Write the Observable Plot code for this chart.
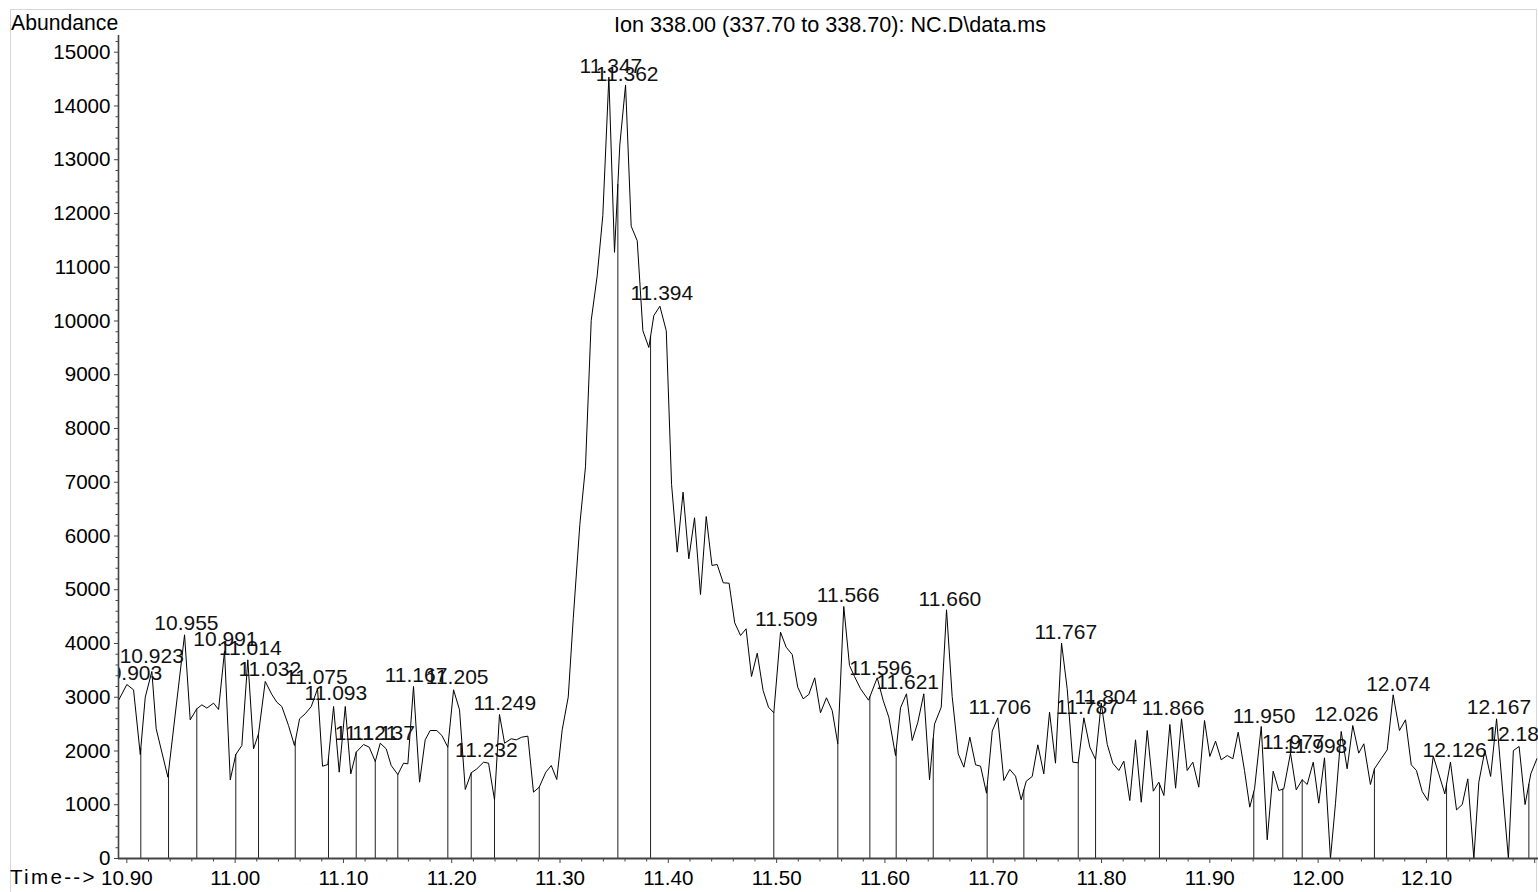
<!DOCTYPE html>
<html><head><meta charset="utf-8">
<script src="https://cdn.jsdelivr.net/npm/d3@7"></script>
<script src="https://cdn.jsdelivr.net/npm/@observablehq/plot@0.6"></script>
<style>
html,body{margin:0;padding:0;background:#fff;overflow:hidden;}
#wrap{position:relative;width:1538px;height:892px;font-family:"Liberation Sans",Arial,sans-serif;overflow:hidden;}
#frame{position:absolute;left:10px;top:9px;width:1527px;height:900px;border:1px solid #d6d6d6;box-sizing:border-box;}
#chart{position:absolute;left:0;top:0;}
.t{position:absolute;white-space:nowrap;color:#000;line-height:1;}
</style></head><body>
<div id="wrap">
  <div id="frame"></div>
  <div id="chart"></div>
  <div class="t" style="left:11px;top:12px;font-size:21.2px;">Abundance</div>
  <div class="t" style="left:830px;top:14px;font-size:21.6px;transform:translateX(-50%);">Ion 338.00 (337.70 to 338.70): NC.D\data.ms</div>
  <div class="t" style="left:10px;top:867px;font-size:20.6px;letter-spacing:2.3px;">Time--&gt;</div>
</div>
<script>
// ---- data ----
const times = [
10.8923,10.9000,10.9062,10.9124,10.9170,10.9231,10.9271,10.9379,10.9533,10.9585,
10.9646,10.9693,10.9739,10.9801,10.9847,10.9902,10.9955,11.0006,11.0062,11.0117,
11.0170,11.0216,11.0278,11.0339,11.0385,11.0431,11.0493,11.0548,11.0595,11.0647,
11.0703,11.0761,11.0807,11.0856,11.0909,11.0961,11.1017,11.1068,11.1118,11.1186,
11.1238,11.1294,11.1340,11.1395,11.1441,11.1502,11.1555,11.1595,11.1647,11.1703,
11.1755,11.1801,11.1862,11.1909,11.1964,11.2017,11.2072,11.2125,11.2180,11.2232,
11.2294,11.2340,11.2395,11.2441,11.2488,11.2549,11.2596,11.2647,11.2703,11.2755,
11.2808,11.2869,11.2919,11.2970,11.3020,11.3076,11.3122,11.3183,11.3235,11.3288,
11.3343,11.3395,11.3451,11.3503,11.3552,11.3605,11.3657,11.3713,11.3765,11.3820,
11.3866,11.3922,11.3981,11.4030,11.4082,11.4136,11.4189,11.4242,11.4297,11.4350,
11.4403,11.4451,11.4507,11.4561,11.4613,11.4667,11.4718,11.4768,11.4821,11.4875,
11.4925,11.4974,11.5036,11.5088,11.5144,11.5195,11.5245,11.5297,11.5352,11.5405,
11.5460,11.5513,11.5565,11.5620,11.5673,11.5719,11.5775,11.5849,11.5929,11.5984,
11.6036,11.6098,11.6144,11.6199,11.6252,11.6304,11.6359,11.6412,11.6458,11.6520,
11.6569,11.6621,11.6677,11.6729,11.6784,11.6837,11.6883,11.6938,11.6991,11.7042,
11.7098,11.7153,11.7206,11.7258,11.7305,11.7360,11.7412,11.7467,11.7520,11.7575,
11.7631,11.7683,11.7735,11.7785,11.7837,11.7892,11.7945,11.7997,11.8053,11.8104,
11.8160,11.8206,11.8261,11.8314,11.8367,11.8422,11.8478,11.8529,11.8576,11.8631,
11.8684,11.8739,11.8791,11.8843,11.8898,11.8951,11.9000,11.9053,11.9105,11.9161,
11.9213,11.9262,11.9320,11.9369,11.9413,11.9475,11.9530,11.9585,11.9637,11.9683,
11.9745,11.9798,11.9853,11.9899,11.9955,12.0006,12.0059,12.0114,12.0160,12.0213,
12.0268,12.0320,12.0375,12.0422,12.0483,12.0520,12.0582,12.0638,12.0693,12.0751,
12.0807,12.0860,12.0908,12.0961,12.1013,12.1063,12.1114,12.1170,12.1222,12.1278,
12.1331,12.1382,12.1438,12.1484,12.1540,12.1593,12.1648,12.1757,12.1803,12.1856,
12.1911,12.1964,12.2020
];
const abundance = [
2940,3237,3138,1935,3002,3480,2412,1513,4161,2580,
2785,2859,2797,2890,2772,3857,1464,1935,2102,3696,
2040,2319,3293,3051,2908,2828,2474,2102,2599,2692,
2828,3157,1717,1749,2828,1606,2828,1575,1978,2121,
2071,1805,2145,2040,1730,1563,1773,1761,3200,1420,
2208,2381,2381,2288,2071,3138,2766,1284,1594,1668,
1792,1773,1092,2679,2145,2227,2208,2257,2276,1234,
1327,1606,1730,1470,2394,3006,4465,6218,7287,10013,
10839,11959,14537,11278,13272,14391,11764,11492,9818,9507,
10100,10275,9818,6960,5699,6815,5576,6338,4911,6362,
5451,5470,5129,5122,4385,4149,4273,3386,3820,3126,
2815,2711,4211,3932,3795,3187,2971,3051,3362,2711,
2990,2753,2134,4688,3591,3386,3157,2945,3362,2940,
2629,1916,2803,3064,2195,2536,3064,1464,2500,2815,
4626,3014,1947,1699,2257,1743,1718,1215,2369,2617,
1451,1656,1532,1092,1439,1526,2115,1575,2722,1773,
4006,3157,1792,1780,2617,2071,1842,2890,2121,1773,
1637,1811,1079,2208,1047,2381,1252,1420,1172,2493,
1308,2599,1637,1792,1327,2567,1898,2183,1836,1916,
1855,2350,1640,955,1296,2456,348,1624,1265,1296,
1960,1277,1464,1377,1792,1029,1873,0,1017,2363,
1669,2474,1960,2134,1377,1669,1855,2022,3045,2381,
2580,1743,1637,1246,1079,1903,1575,1203,1792,905,
1004,1482,0,1420,2009,1526,2599,0,2009,2084,
1004,1575,1855
];
const peakLabels = [10.903,10.923,10.955,10.991,11.014,11.032,11.075,11.093,11.121,11.137,
  11.167,11.205,11.232,11.249,11.347,11.362,11.394,11.509,11.566,11.596,11.621,11.660,
  11.706,11.767,11.787,11.804,11.866,11.950,11.977,11.998,12.026,12.074,12.126,12.167,12.185];
const peakHeights = [3219,3535,4149,3857,3702,3293,3157,2847,2115,2115,
  3187,3157,1792,2673,14523,14376,10288,4229,4676,3325,3064,4601,
  2599,3994,2586,2785,2580,2424,1948,1866,2461,3020,1792,2599,2084];
const dropTimes = [10.9129,10.9385,10.9646,11.0006,11.0216,11.0555,11.0862,11.1118,11.1294,11.1502,
  11.1964,11.2180,11.2395,11.2808,11.3534,11.3836,11.4974,11.5565,11.5861,11.6104,11.6446,
  11.6944,11.7283,11.7785,11.7945,11.8535,11.9406,11.9674,11.9853,12.0520,12.1186,12.1946];
const xTicks = [10.90,11.00,11.10,11.20,11.30,11.40,11.50,11.60,11.70,11.80,11.90,12.00,12.10,12.20];
const yTicks = [0,1000,2000,3000,4000,5000,6000,7000,8000,9000,10000,11000,12000,13000,14000,15000];

// ---- derived tables ----
const series = times.map((t, i) => ({t, a: abundance[i]}));
const labels = peakLabels.map((t, i) => ({t, h: peakHeights[i], s: t.toFixed(3)}));
function curveAt(t) {
  for (let i = 0; i < times.length - 1; i++) {
    if (t >= times[i] && t <= times[i + 1]) {
      const f = (t - times[i]) / (times[i + 1] - times[i]);
      return abundance[i] + f * (abundance[i + 1] - abundance[i]);
    }
  }
  return 0;
}
const drops = dropTimes.map(t => ({t, top: curveAt(t)}));
const xMinor = d3.range(1090, 1221, 2).filter(v => v % 10 !== 0).map(v => v / 100);
const yMinor = d3.range(0, 15201, 200).filter(v => v % 1000 !== 0);
const xDomain = [10.8923, 12.2035];
const yDomain = [0, 15311];

const chart = Plot.plot({
  width: 1538, height: 892,
  marginLeft: 118, marginRight: 0, marginTop: 35, marginBottom: 34,
  x: {domain: xDomain, axis: null},
  y: {domain: yDomain, axis: null},
  style: {fontFamily: "'Liberation Sans', Arial, sans-serif", fontSize: "20.6px", color: "#000", background: "transparent", overflow: "visible"},
  marks: [
    Plot.ruleX(drops, {x: "t", y1: 0, y2: "top", stroke: "#222", strokeWidth: 1}),
    Plot.line(series, {x: "t", y: "a", stroke: "#000", strokeWidth: 1, clip: true}),
    Plot.text(labels, {x: "t", y: "h", text: "s", dy: -5, lineAnchor: "bottom", textAnchor: "middle", fontSize: 21, fill: "#111", clip: true}),
    Plot.axisX(xMinor, {tickSize: 3.5, tickFormat: () => "", stroke: "#444", label: null}),
    Plot.axisX(xTicks, {tickSize: 5, tickPadding: 7, tickFormat: d => d > 12.15 ? "" : d3.format(".2f")(d), stroke: "#444", fill: "#000", label: null}),
    Plot.axisY(yMinor, {tickSize: 2.5, tickFormat: () => "", stroke: "#444", label: null}),
    Plot.axisY(yTicks, {tickSize: 4, tickPadding: 4, tickFormat: d => String(d), stroke: "#444", fill: "#000", label: null}),
    Plot.ruleX([xDomain[0]], {stroke: "#444", strokeWidth: 1.6}),
    Plot.ruleY([0], {stroke: "#444", strokeWidth: 2})
  ]
});
document.getElementById("chart").appendChild(chart);
</script>
</body></html>
